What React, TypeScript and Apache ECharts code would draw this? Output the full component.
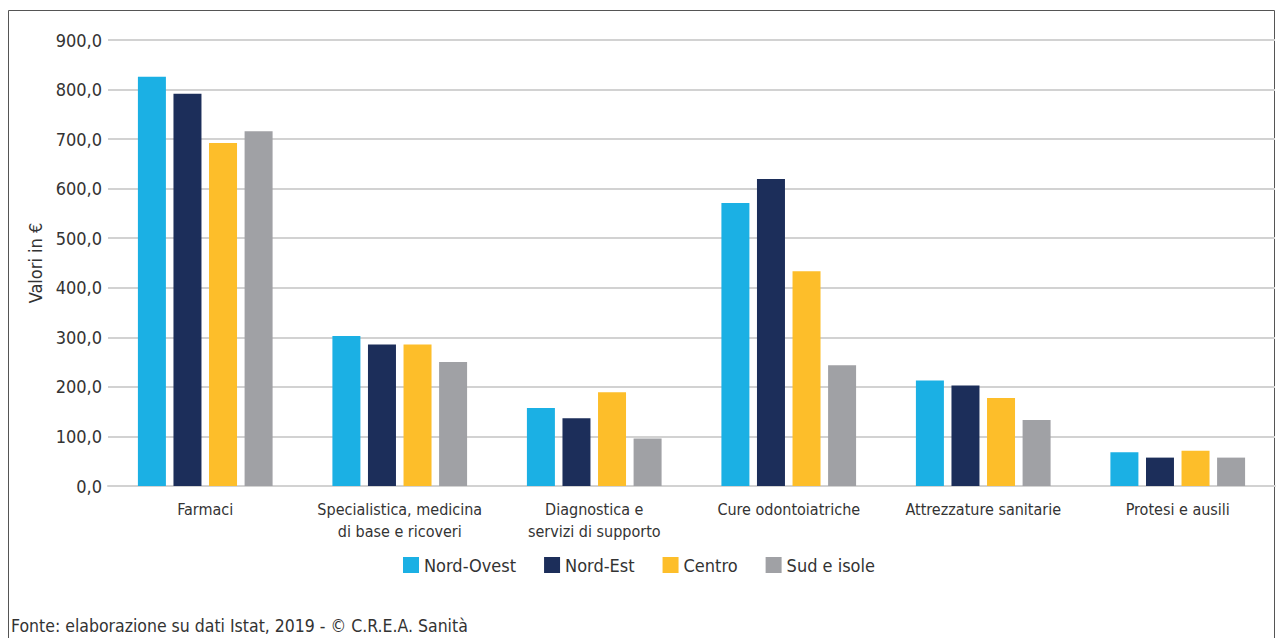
import React, { useEffect, useRef } from "react";
import * as echarts from "echarts";

const categories = [
  "Farmaci",
  "Specialistica, medicina\ndi base e ricoveri",
  "Diagnostica e\nservizi di supporto",
  "Cure odontoiatriche",
  "Attrezzature sanitarie",
  "Protesi e ausili",
];
const seriesNames = ["Nord-Ovest", "Nord-Est", "Centro", "Sud e isole"];
const nordOvest = [826.0, 302.5, 157.5, 571.0, 212.8, 68.0];
const nordEst = [791.5, 285.5, 136.7, 619.3, 202.7, 57.3];
const centro = [692.0, 285.5, 189.2, 433.6, 177.7, 71.0];
const sudIsole = [715.7, 250.4, 95.7, 243.7, 133.3, 57.3];
const yTicks = { min: 0, max: 900, interval: 100 };
const colors = ["#1BB0E4", "#1C2E5A", "#FDBE2A", "#A0A1A5"];
const sourceText = "Fonte: elaborazione su dati Istat, 2019 - © C.R.E.A. Sanità";
const yAxisName = "Valori in €";

const FONT = "'Liberation Sans Narrow', 'DejaVu Sans Condensed', Roboto, sans-serif";

export default function App() {
  const ref = useRef<HTMLDivElement>(null);
  useEffect(() => {
    document.body.style.margin = "0";
    const chart = echarts.init(ref.current!, null, { renderer: "svg" });
    const data = [nordOvest, nordEst, centro, sudIsole];
    chart.setOption({
      animation: false,
      textStyle: { fontFamily: FONT },
      color: colors,
      grid: { left: 108, right: 7, top: 40, bottom: 152 },
      legend: {
        left: 398,
        top: 551,
        itemWidth: 16,
        itemHeight: 16,
        itemGap: 28,
        icon: "rect",
        textStyle: { fontFamily: FONT, fontSize: 18, color: "#333" },
        data: seriesNames,
      },
      xAxis: {
        type: "category",
        data: categories,
        axisTick: { show: false },
        axisLine: { lineStyle: { color: "#D2D2D2", width: 2 } },
        axisLabel: {
          fontFamily: FONT,
          fontSize: 16,
          lineHeight: 22,
          color: "#333",
          margin: 12,
          interval: 0,
        },
      },
      yAxis: {
        type: "value",
        min: yTicks.min,
        max: yTicks.max,
        interval: yTicks.interval,
        name: yAxisName,
        nameLocation: "middle",
        nameRotate: 90,
        nameGap: 64,
        nameTextStyle: { fontFamily: FONT, fontSize: 18, color: "#333" },
        axisLine: { show: false },
        axisTick: { show: false },
        splitLine: { lineStyle: { color: "#D2D2D2", width: 2 } },
        axisLabel: {
          fontFamily: FONT,
          fontSize: 18,
          color: "#333",
          margin: 6,
          formatter: (v: number) => v.toFixed(1).replace(".", ","),
        },
      },
      series: seriesNames.map((name, i) => ({
        name,
        type: "bar",
        data: data[i],
        barWidth: 28,
        barGap: "27%",
        itemStyle: { color: colors[i] },
      })),
      graphic: [
        {
          type: "rect",
          shape: { x: 8.5, y: 10.5, width: 1266, height: 640 },
          style: { fill: "none", stroke: "#555", lineWidth: 1 },
          silent: true,
        },
        {
          type: "text",
          left: 11,
          top: 617,
          style: { text: sourceText, fontFamily: FONT, fontSize: 17.5, fill: "#333" },
        },
      ],
    });
    return () => chart.dispose();
  }, []);
  return <div ref={ref} style={{ width: 1282, height: 638 }} />;
}
